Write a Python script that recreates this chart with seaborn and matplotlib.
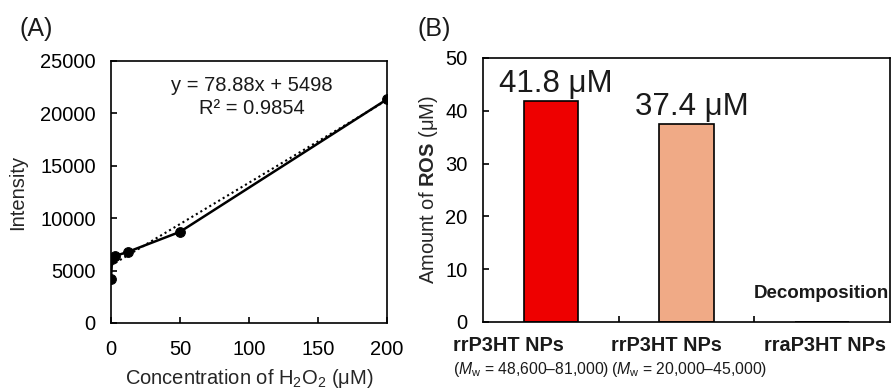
import numpy as np
import pandas as pd
import matplotlib
matplotlib.use("Agg")
import matplotlib.pyplot as plt
import matplotlib.transforms as mtransforms
import seaborn as sns

# (A) calibration data
conc = [0, 0.78, 3.125, 12.5, 50, 200]
intensity = [4200, 6100, 6400, 6800, 8700, 21350]
slope = 78.88
intercept = 5498
r2 = 0.9854

# (B) ROS amount
bar_keys = ["rrP3HT_high", "rrP3HT_low", "rraP3HT"]
bar_names = ["rrP3HT NPs", "rrP3HT NPs", "rraP3HT NPs"]
bar_mw = ["48,600\u201381,000", "20,000\u201345,000", None]
ros = [41.8, 37.4, 0.0]
bar_colors = ["#EE0000", "#F0AA86", "#FFFFFF"]

sns.set_style("ticks")
plt.rcParams['font.family'] = ['Liberation Sans', 'DejaVu Sans']
plt.rcParams['mathtext.fontset'] = 'custom'
plt.rcParams['mathtext.rm'] = 'Liberation Sans'
plt.rcParams['mathtext.it'] = 'Liberation Sans:italic'
plt.rcParams['mathtext.bf'] = 'Liberation Sans:bold'
plt.rcParams['axes.linewidth'] = 1.2
plt.rcParams['text.color'] = '#1a1a1a'

fig = plt.figure(figsize=(8.91, 3.9), dpi=100)
axA = fig.add_axes([0.1246, 0.1718, 0.3098, 0.6718])
axB = fig.add_axes([0.5421, 0.1744, 0.4568, 0.677])

# ---- panel A
dfA = pd.DataFrame({"conc": conc, "intensity": intensity})
trend_x = np.array([0, 200])
trend_y = slope * trend_x + intercept
sns.lineplot(x=trend_x, y=trend_y, ax=axA, color="black", lw=1.5, linestyle=(0, (1, 1.5)))
sns.lineplot(data=dfA, x="conc", y="intensity", ax=axA, color="black", lw=1.8,
             marker="o", markersize=7, markeredgecolor="black")
axA.set_xlim(0, 200)
axA.set_ylim(0, 25000)
axA.set_xticks([0, 50, 100, 150, 200])
axA.set_yticks(range(0, 25001, 5000))
axA.tick_params(direction="in", length=4, width=1.2, labelsize=14.5, colors="black")
axA.tick_params(axis="x", pad=12)
axA.tick_params(axis="y", pad=11)
axA.set_xlabel("Concentration of H$_2$O$_2$ (\u03bcM)", fontsize=14.5, labelpad=6)
axA.set_ylabel("Intensity", fontsize=14.5, labelpad=9)
axA.text(102, 22700, f"y = {slope}x + {intercept}", ha="center", va="center", fontsize=14.5)
axA.text(102, 20500, f"R\u00b2 = {r2}", ha="center", va="center", fontsize=14.5)
for s in axA.spines.values():
    s.set_visible(True)
    s.set_color("black")
fig.text(0.022, 0.925, "(A)", fontsize=18, ha="left", va="center")

# ---- panel B
dfB = pd.DataFrame({"key": bar_keys, "ros": ros})
sns.barplot(data=dfB, x="key", y="ros", hue="key", palette=bar_colors, legend=False,
            saturation=1, width=0.4, edgecolor="black", linewidth=1.2, ax=axB)
axB.set_xlim(-0.5, 2.5)
axB.set_ylim(0, 50)
axB.set_yticks(range(0, 51, 10))
axB.set_xticks([0.5, 1.5], labels=["", ""])
axB.set_xlabel("")
axB.tick_params(direction="in", length=4, width=1.2, labelsize=14.5, colors="black")
axB.tick_params(axis="y", pad=11)
axB.set_ylabel("Amount of $\\bf{ROS}$ (\u03bcM)", fontsize=14.5, labelpad=4)
for s in axB.spines.values():
    s.set_visible(True)
    s.set_color("black")

for i, v in enumerate(ros):
    if v > 0:
        axB.text(i + 0.04, v + 1.8, f"{v} \u03bcM", ha="center", va="baseline", fontsize=22.5)
axB.text(2.49, 5.3, "Decomposition", ha="right", va="center", fontsize=13.5, fontweight="bold")

trans = mtransforms.blended_transform_factory(axB.transData, axB.transAxes)
name_x = [-0.72, 0.44, 1.57]
for x, name, mw in zip(name_x, bar_names, bar_mw):
    axB.text(x, -0.09, name, transform=trans, ha="left", va="center",
             fontsize=14.3, fontweight="bold", clip_on=False)
    if mw:
        axB.text(x, -0.18, "($\\it{M}_{\\rm w}$ = " + mw + ")", transform=trans,
                 ha="left", va="center", fontsize=11.3, clip_on=False)
fig.text(0.469, 0.925, "(B)", fontsize=18, ha="left", va="center")

fig.savefig("out.png", dpi=100)
